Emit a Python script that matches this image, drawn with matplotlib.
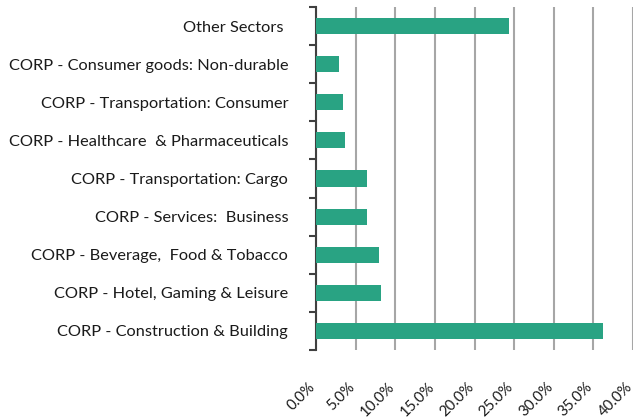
import matplotlib
matplotlib.use("Agg")
import matplotlib.pyplot as plt
import matplotlib.transforms as mtrans
from matplotlib.ticker import FixedLocator, PercentFormatter

# sectors, top to bottom as shown
sectors = [
    "Other Sectors ",
    "CORP - Consumer goods: Non-durable",
    "CORP - Transportation: Consumer",
    "CORP - Healthcare  & Pharmaceuticals",
    "CORP - Transportation: Cargo",
    "CORP - Services:  Business",
    "CORP - Beverage,  Food & Tobacco",
    "CORP - Hotel, Gaming & Leisure",
    "CORP - Construction & Building",
]
weights = [24.35, 2.86, 3.36, 3.62, 6.4, 6.4, 7.9, 8.15, 36.25]
x_ticks = [0, 5, 10, 15, 20, 25, 30, 35, 40]

plt.rcParams["font.family"] = ["Lato", "DejaVu Sans"]

fig = plt.figure(figsize=(6.35, 4.19), dpi=100)
ax = fig.add_axes([316 / 635, 1 - 350 / 419, (633 - 316) / 635, (350 - 7) / 419])

n = len(sectors)
pos = list(range(n - 1, -1, -1))
ax.barh(pos, weights, height=0.42, color="#29a383", zorder=3)

ax.set_xlim(0, 40)
ax.set_ylim(-0.5, n - 0.5)

# vertical gridlines
ax.xaxis.set_major_locator(FixedLocator(x_ticks))
ax.xaxis.set_major_formatter(PercentFormatter(decimals=1))
ax.grid(axis="x", color="#a6a6a6", linewidth=1.5, zorder=0)
ax.tick_params(axis="x", length=0, pad=25, labelsize=10.8, labelcolor="#1a1a1a")
nudge = mtrans.ScaledTranslation(-3 / 100, 0, fig.dpi_scale_trans)
for lbl in ax.get_xticklabels():
    lbl.set_rotation(45)
    lbl.set_ha("right")
    lbl.set_va("center")
    lbl.set_rotation_mode("anchor")
    lbl.set_transform(lbl.get_transform() + nudge)

# category labels at bar centres, tick marks at the boundaries
ax.set_yticks(pos)
ax.set_yticklabels(sectors)
ax.tick_params(axis="y", which="major", length=0, pad=20, labelsize=11.8, labelcolor="#1a1a1a")
ax.set_yticks([i - 0.5 for i in range(n + 1)], minor=True)
ax.tick_params(axis="y", which="minor", length=5, width=1.5, color="#404040")

for s in ["top", "right", "bottom"]:
    ax.spines[s].set_visible(False)
ax.spines["left"].set_color("#404040")
ax.spines["left"].set_linewidth(1.5)

fig.savefig("out.png", dpi=100)
